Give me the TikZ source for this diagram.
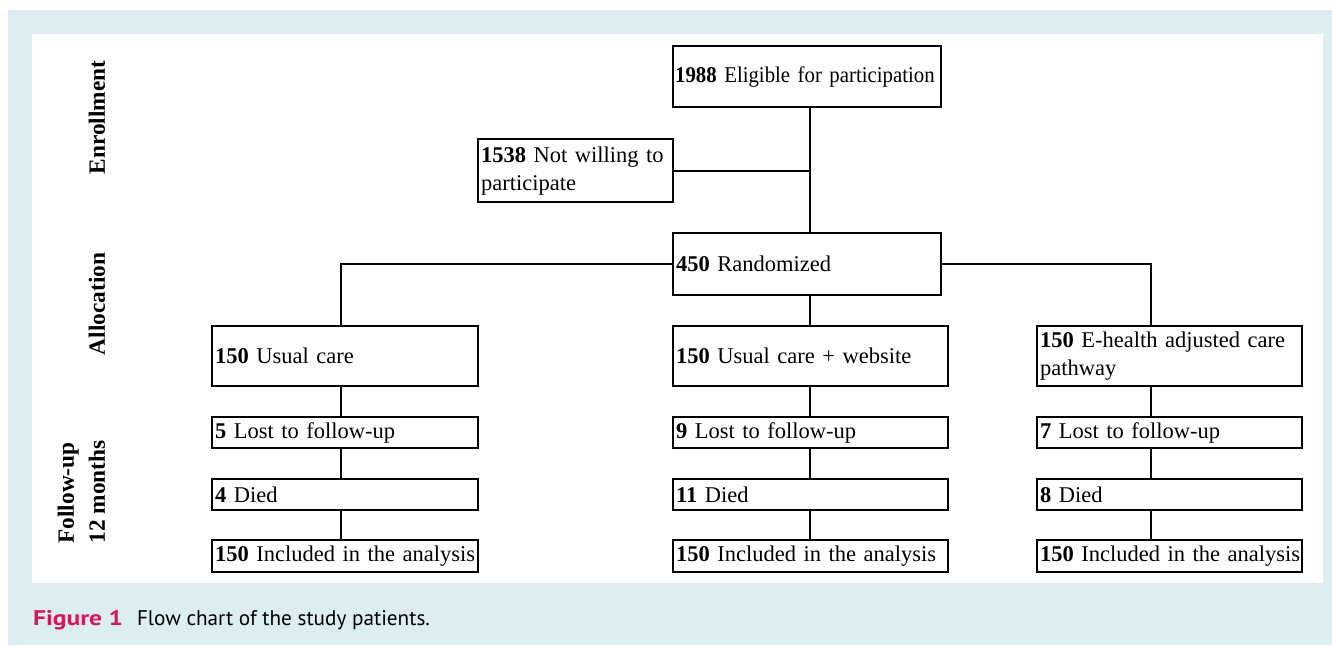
\documentclass[tikz,border=0pt]{standalone}
\usepackage{fontspec}
\setmainfont{Liberation Serif}
\newfontfamily\capfont{PT Sans}
\newfontfamily\capboldfont[FakeStretch=1.2]{PT Sans Bold}
\definecolor{bgblue}{RGB}{221,238,243}
\definecolor{figred}{RGB}{212,23,90}
\tikzset{
  box/.style={draw, line width=2.3pt, rectangle, anchor=north west, inner xsep=3pt, inner ysep=0pt, align=left, font=\fontsize{22.5}{28}\selectfont},
  conn/.style={line width=1.8pt},
  lab/.style={rotate=90, inner sep=0pt, align=left, font=\bfseries\fontsize{23.3}{31}\selectfont}
}
\begin{document}
\begin{tikzpicture}[x=1pt,y=-1pt]
\useasboundingbox (0,0) rectangle (1332,646);
\fill[bgblue] (8,10) rectangle (1332,645);
\fill[white] (32,34) rectangle (1323,583);
% side labels
\node[lab] (lenr) at (97,117.5) {Enrollment};
\node[lab] (lall) at (97,304) {Allocation};
\node[lab] (lfol) at (81.5,492) {Follow-up\\12 months};
% boxes
\node[box, inner xsep=2pt, text width=264pt, minimum height=61pt] (elig) at (672,45) {\addfontfeature{FakeStretch=0.925}\mbox{\textbf{1988} Eligible for participation}};
\node[box, text width=189pt, minimum height=63pt] (notw) at (477,138) {\textbf{1538} Not willing to\\participate};
\node[box, text width=262pt, minimum height=62pt] (rand) at (672,232) {\mbox{\textbf{450} Randomized}};
\node[box, text width=260pt, minimum height=60pt] (uc) at (211,325) {\mbox{\textbf{150} Usual care}};
\node[box, text width=269pt, minimum height=60pt] (ucw) at (672,325) {\mbox{\textbf{150} Usual care + website}};
\node[box, text width=259pt, minimum height=60pt] (eh) at (1036,325) {\textbf{150} E-health adjusted care\\pathway};
\node[box, text width=260pt, minimum height=31pt] (lostA) at (211,416) {\mbox{\textbf{5} Lost to follow-up}};
\node[box, text width=269pt, minimum height=31pt] (lostB) at (672,416) {\mbox{\textbf{9} Lost to follow-up}};
\node[box, text width=259pt, minimum height=31pt] (lostC) at (1036,416) {\mbox{\textbf{7} Lost to follow-up}};
\node[box, text width=260pt, minimum height=31pt] (diedA) at (211,478) {\mbox{\textbf{4} Died}};
\node[box, text width=269pt, minimum height=31pt] (diedB) at (672,478) {\mbox{\textbf{11} Died}};
\node[box, text width=259pt, minimum height=31pt] (diedC) at (1036,478) {\mbox{\textbf{8} Died}};
\node[box, text width=260pt, minimum height=32pt] (inclA) at (211,539) {\mbox{\textbf{150} Included in the analysis}};
\node[box, text width=269pt, minimum height=32pt] (inclB) at (672,539) {\mbox{\textbf{150} Included in the analysis}};
\node[box, text width=259pt, minimum height=32pt] (inclC) at (1036,539) {\mbox{\textbf{150} Included in the analysis}};
% column line positions
\coordinate (cA) at (341,0);
\coordinate (cB) at (810,0);
\coordinate (cC) at (1151,0);
% connectors
\draw[conn] (elig.south -| cB) -- (rand.north -| cB);
\draw[conn] (notw.east) -- (notw.east -| cB);
\draw[conn] (rand.south -| cB) -- (ucw.north -| cB);
\draw[conn] (rand.west) -| (uc.north -| cA);
\draw[conn] (rand.east) -| (eh.north -| cC);
\draw[conn] (uc.south -| cA) -- (lostA.north -| cA);
\draw[conn] (lostA.south -| cA) -- (diedA.north -| cA);
\draw[conn] (diedA.south -| cA) -- (inclA.north -| cA);
\draw[conn] (ucw.south -| cB) -- (lostB.north -| cB);
\draw[conn] (lostB.south -| cB) -- (diedB.north -| cB);
\draw[conn] (diedB.south -| cB) -- (inclB.north -| cB);
\draw[conn] (eh.south -| cC) -- (lostC.north -| cC);
\draw[conn] (lostC.south -| cC) -- (diedC.north -| cC);
\draw[conn] (diedC.south -| cC) -- (inclC.north -| cC);
% caption
\node[anchor=base west, inner sep=0pt, font=\capfont\fontsize{21.2}{24}\selectfont] (cap) at (33,625) {\textcolor{figred}{\capboldfont Figure 1}\hspace{14pt}Flow chart of the study patients.};
\end{tikzpicture}
\end{document}
